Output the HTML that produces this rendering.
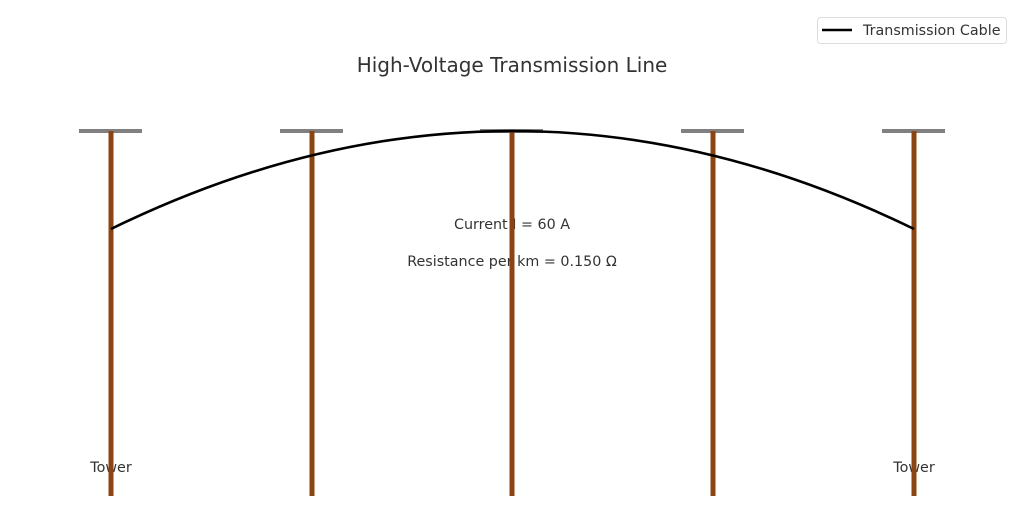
<!DOCTYPE html>
<html><head><meta charset="utf-8"><style>
html,body{margin:0;padding:0;background:#fff;}
svg{display:block;}
text{font-family:"DejaVu Sans","Liberation Sans",sans-serif;fill:#333;}
</style></head><body>
<svg width="1024" height="507" viewBox="0 0 1024 507" xmlns="http://www.w3.org/2000/svg">
<text x="512" y="72" font-size="20" text-anchor="middle">High-Voltage Transmission Line</text>
<text x="512" y="229" font-size="14.3" text-anchor="middle">Current I = 60 A</text>
<text x="512" y="266" font-size="14.3" text-anchor="middle">Resistance per km = 0.150 Ω</text>
<text x="111" y="472" font-size="14.3" text-anchor="middle">Tower</text>
<text x="914" y="472" font-size="14.3" text-anchor="middle">Tower</text>
<g stroke="#808080" stroke-width="4">
<line x1="79" y1="131" x2="142" y2="131"/>
<line x1="280" y1="131" x2="343" y2="131"/>
<line x1="480" y1="131" x2="543" y2="131"/>
<line x1="681" y1="131" x2="744" y2="131"/>
<line x1="882" y1="131" x2="945" y2="131"/>
</g>
<g stroke="#8B4513" stroke-width="5">
<line x1="111" y1="131" x2="111" y2="496"/>
<line x1="312" y1="131" x2="312" y2="496"/>
<line x1="512" y1="131" x2="512" y2="496"/>
<line x1="713" y1="131" x2="713" y2="496"/>
<line x1="914" y1="131" x2="914" y2="496"/>
</g>
<path d="M111 229 Q512 33 914 229" fill="none" stroke="#000" stroke-width="2.6"/>
<rect x="817.5" y="17.5" width="189" height="26" rx="3" fill="#fff" fill-opacity="0.8" stroke="#ddd"/>
<line x1="822" y1="30" x2="852" y2="30" stroke="#000" stroke-width="2.6"/>
<text x="863" y="35" font-size="14.3">Transmission Cable</text>
</svg>
</body></html>
